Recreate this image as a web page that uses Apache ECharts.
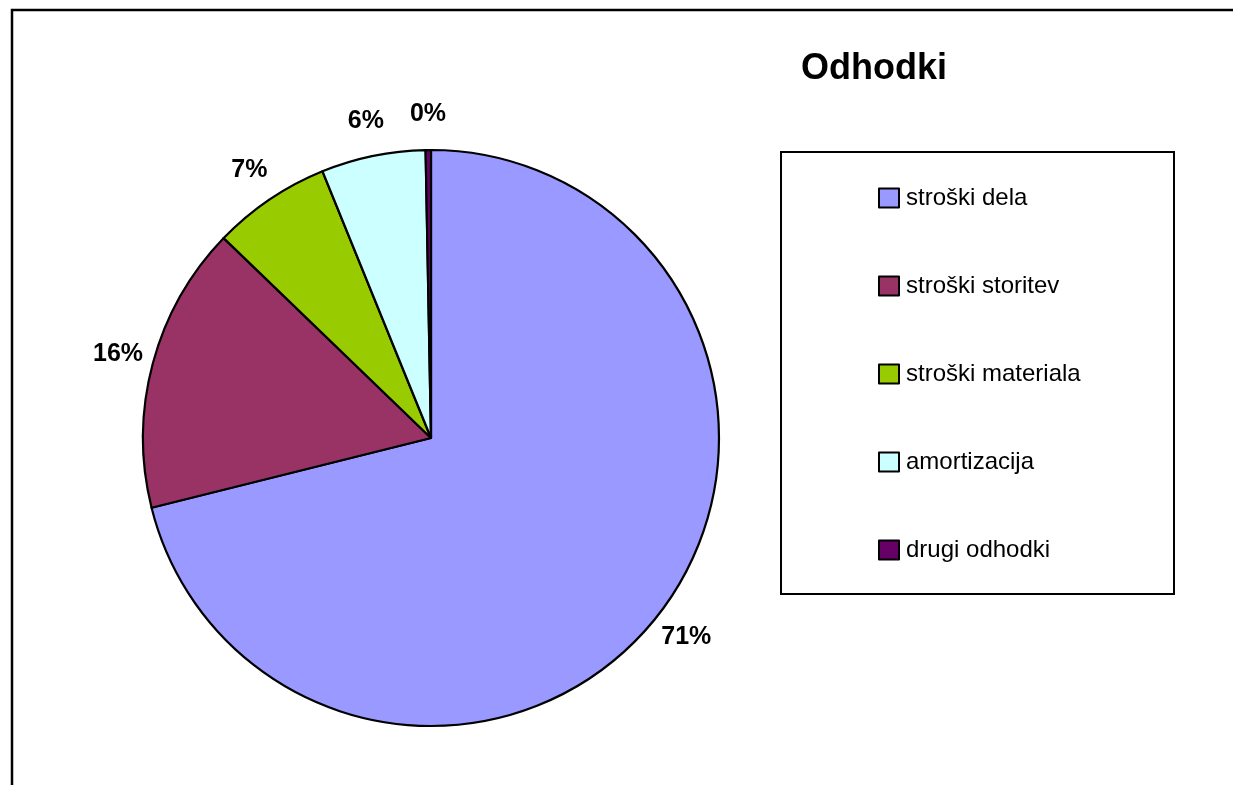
<!DOCTYPE html>
<html>
<head>
<meta charset="utf-8">
<title>Odhodki</title>
<script src="https://cdn.jsdelivr.net/npm/echarts@6/dist/echarts.min.js"></script>
<style>
html, body { margin: 0; padding: 0; background: #fff; }
#chart { width: 1233px; height: 785px; }
</style>
</head>
<body>
<div id="chart"></div>
<script>
// podatki odčitani s slike (delež v %)
var categories = ['stroški dela', 'stroški storitev', 'stroški materiala', 'amortizacija', 'drugi odhodki'];
var values = [71.11, 16.10, 6.64, 5.85, 0.30];
var colors = ['#9999FF', '#993366', '#99CC00', '#CCFFFF', '#660066'];

function buildPieData(withColor) {
    var result = [];
    for (var i = 0; i < categories.length; i++) {
        var item = {name: categories[i], value: values[i]};
        if (withColor) {
            item.itemStyle = {color: colors[i]};
        }
        result.push(item);
    }
    return result;
}

var chart = echarts.init(document.getElementById('chart'));
var pieCenter = [431, 438];

var option = {
    animation: false,
    textStyle: {fontFamily: 'Liberation Sans, Arial, sans-serif'},
    title: {
        text: 'Odhodki',
        left: 801,
        top: 51,
        padding: 0,
        textStyle: {fontSize: 36, fontWeight: 'bold', color: '#000'}
    },
    graphic: [
        {   // okvir grafikona
            type: 'rect',
            shape: {x: 12, y: 10, width: 1400, height: 1000},
            style: {fill: null, stroke: '#000', lineWidth: 2.5},
            silent: true
        },
        {   // okvir legende
            type: 'rect',
            shape: {x: 781, y: 152, width: 393, height: 442},
            style: {fill: null, stroke: '#000', lineWidth: 2},
            silent: true
        }
    ],
    legend: {
        orient: 'vertical',
        left: 878,
        top: 186,
        padding: 0,
        itemGap: 64,
        itemWidth: 20,
        itemHeight: 19,
        icon: 'rect',
        selectedMode: false,
        data: categories,
        textStyle: {fontSize: 24, color: '#000', padding: [0, 0, 0, 2]}
    },
    series: [
        {
            name: 'Odhodki',
            type: 'pie',
            center: pieCenter,
            radius: 288,
            startAngle: 90,
            clockwise: true,
            silent: true,
            data: buildPieData(true),
            itemStyle: {borderColor: '#000', borderWidth: 2.2},
            label: {show: false},
            labelLine: {show: false}
        },
        {
            // prozoren obroč samo za odstotke okoli torte
            name: 'oznake',
            type: 'pie',
            center: pieCenter,
            radius: [297, 345],
            startAngle: 90,
            clockwise: true,
            silent: true,
            data: buildPieData(false),
            itemStyle: {color: 'rgba(0,0,0,0)', borderWidth: 0},
            label: {
                show: true,
                position: 'inside',
                color: '#000',
                fontSize: 25,
                fontWeight: 'bold',
                textBorderWidth: 0,
                formatter: function (p) {
                    return Math.round(p.percent) + '%';
                }
            },
            labelLine: {show: false}
        }
    ]
};
chart.setOption(option);
</script>
</body>
</html>
